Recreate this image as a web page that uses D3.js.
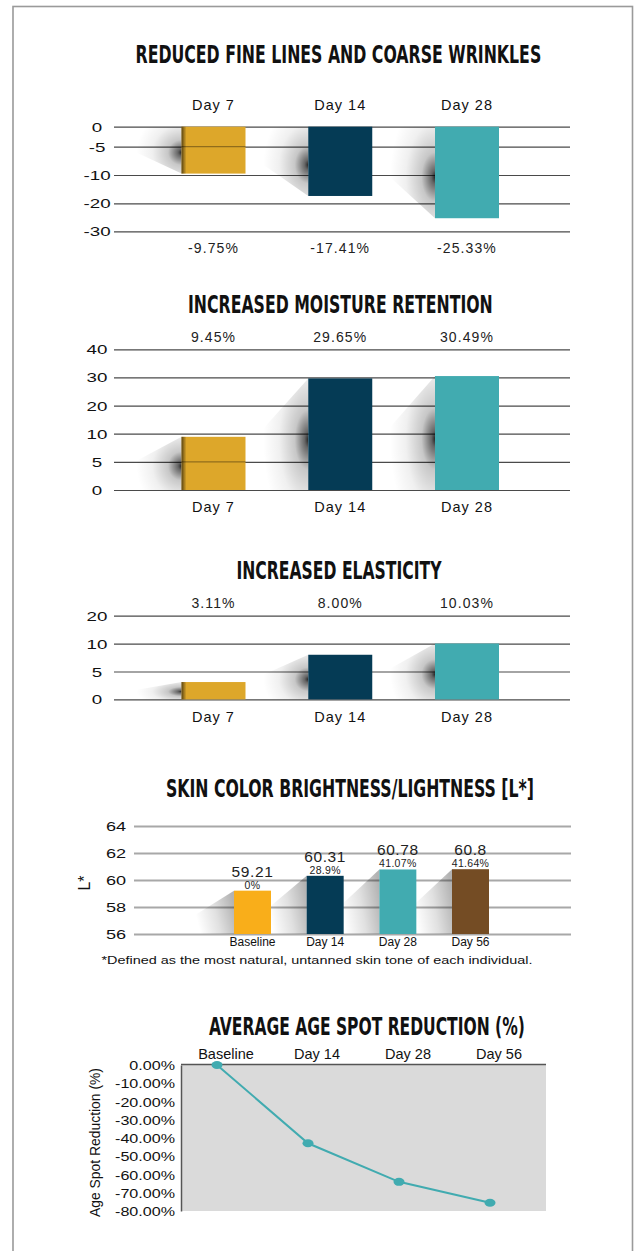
<!DOCTYPE html>
<html>
<head>
<meta charset="utf-8">
<script src="https://cdn.jsdelivr.net/npm/d3@7"></script>
<style>
    body { margin: 0; background: #fff; }
    svg text { font-family: 'Liberation Sans', Arial, sans-serif; fill: #222; }
    .chart__title { font-family: 'Liberation Sans Narrow', 'DejaVu Sans Condensed', sans-serif; font-weight: bold; fill: #111; }
</style>
</head>
<body>
<svg id="chart" width="637" height="1251"></svg>
<script>
//Datos de los gráficos de barras
let dayLabels = ['Day 7', 'Day 14', 'Day 28'];
let wrinkleValues = [-9.75, -17.41, -25.33];
let wrinkleTicks = [0, -5, -10, -20, -30];
let moistureValues = [9.45, 29.65, 30.49];
let moistureTicks = [40, 30, 20, 10, 5, 0];
let elasticityValues = [3.11, 8.00, 10.03];
let elasticityTicks = [20, 10, 5, 0];

let brightnessLabels = ['Baseline', 'Day 14', 'Day 28', 'Day 56'];
let brightnessValues = [59.21, 60.31, 60.78, 60.8];
let brightnessChanges = ['0%', '28.9%', '41.07%', '41.64%'];
let brightnessTicks = [56, 58, 60, 62, 64];

let spotLabels = ['Baseline', 'Day 14', 'Day 28', 'Day 56'];
let spotValues = [0, -42.9, -64, -75.5];
let spotTicks = [0, -10, -20, -30, -40, -50, -60, -70, -80];

let chartTitles = ['REDUCED FINE LINES AND COARSE WRINKLES', 'INCREASED MOISTURE RETENTION', 'INCREASED ELASTICITY',
    'SKIN COLOR BRIGHTNESS/LIGHTNESS [L*]', 'AVERAGE AGE SPOT REDUCTION (%)'];
let footnote = '*Defined as the most natural, untanned skin tone of each individual.';

//Variables para colores
let gold = '#dda72a', navy = '#053b55', teal = '#41abb0', amber = '#f9ae1a', brown = '#744c24';
let dayColors = [gold, navy, teal];
let brightnessColors = [amber, navy, teal, brown];

let svg = d3.select('#chart');
//Formato con guion normal en lugar del signo menos
let pct = function(d) { return d3.format('.2f')(d).replace('\u2212', '-'); };

//Marco exterior
svg.append('rect')
    .attr('x', 13).attr('y', 6.5)
    .attr('width', 619.5).attr('height', 1270)
    .style('fill', 'none').style('stroke', '#9a9a9a').style('stroke-width', 1.6);

//Degradados para sombras
let defs = svg.append('defs');
let darkShadow = defs.append('radialGradient').attr('id', 'shadow-dark')
    .attr('cx', 1).attr('cy', 0.55).attr('fx', 1).attr('fy', 0.55).attr('r', 0.9);
[[0, 0.85], [0.08, 0.6], [0.3, 0.22], [0.65, 0.06], [1, 0]].forEach(function(s) {
    darkShadow.append('stop').attr('offset', s[0]).attr('stop-color', '#000').attr('stop-opacity', s[1]);
});
let lightShadow = defs.append('linearGradient').attr('id', 'shadow-light')
    .attr('x1', 1).attr('x2', 0).attr('y1', 0.3).attr('y2', 0.6);
[[0, 0.3], [0.5, 0.12], [1, 0]].forEach(function(s) {
    lightShadow.append('stop').attr('offset', s[0]).attr('stop-color', '#000').attr('stop-opacity', s[1]);
});
let sideShadow = defs.append('linearGradient').attr('id', 'shadow-side');
[[0, 0.6], [1, 0]].forEach(function(s) {
    sideShadow.append('stop').attr('offset', s[0]).attr('stop-color', '#000').attr('stop-opacity', s[1]);
});

//Título estrechado hasta el ancho indicado
function addTitle(chart, text, x, y, len) {
    let t = chart.append('text')
        .attr('class', 'chart__title')
        .style('font-size', '24px')
        .text(text);
    let sx = len / t.node().getComputedTextLength();
    t.attr('transform', 'translate(' + x + ',' + y + ') scale(' + sx + ',1)');
}

/* Gráficos de barras Day 7 / 14 / 28 */
function getDayChart(cfg) {
    let chart = svg.append('g');
    addTitle(chart, cfg.title, cfg.titleX, cfg.titleY, cfg.titleLen);

    //Eje Y (escala por tramos)
    let yRange = [cfg.gridTop];
    cfg.gaps.forEach(function(g) { yRange.push(yRange[yRange.length - 1] + g); });
    let y = d3.scaleLinear().domain(cfg.ticks).range(yRange);
    let x = d3.scalePoint().domain(dayLabels).range([213.5, 467]);
    let barW = 64, gridLeft = 114, gridRight = 570;

    let yAxis = function(g) {
        g.call(d3.axisLeft(y).tickValues(cfg.ticks).tickSize(-(gridRight - gridLeft)).tickFormat(function(d) { return String(d); }));
        g.call(function(g) { g.select('.domain').remove(); });
        g.call(function(g) { g.selectAll('.tick line').style('stroke', '#4a4a4a').style('stroke-width', 1.2); });
        g.call(function(g) {
            g.selectAll('.tick text')
                .attr('x', 0).attr('dy', '0.36em')
                .attr('text-anchor', 'middle')
                .attr('transform', 'translate(' + (97 - gridLeft) + ',0) scale(1.5,1)')
                .style('font-size', '12.5px').style('fill', '#111');
        });
    };
    chart.append('g')
        .attr('transform', 'translate(' + gridLeft + ',0)')
        .call(yAxis);

    let y0 = y(0);

    //Sombras
    chart.selectAll('.shadow')
        .data(cfg.values)
        .enter()
        .append('polygon')
        .attr('points', function(d, i) {
            let L = x(dayLabels[i]) - barW / 2, yv = y(d), dx = 50;
            if (d < 0) {
                return [[L, y0], [L - dx, y0], [L - dx, y0 + (yv - y0) * 0.5], [L, yv]].join(' ');
            }
            return [[L, yv], [L - dx, yv + (y0 - yv) * 0.5], [L - dx, y0], [L, y0]].join(' ');
        })
        .style('fill', 'url(#shadow-dark)');

    //Barras
    chart.selectAll('.bar')
        .data(cfg.values)
        .enter()
        .append('rect')
        .attr('x', function(d, i) { return x(dayLabels[i]) - barW / 2; })
        .attr('y', function(d) { return Math.min(y0, y(d)); })
        .attr('width', barW)
        .attr('height', function(d) { return Math.abs(y(d) - y0); })
        .style('fill', function(d, i) { return dayColors[i]; });

    //Borde oscuro y líneas sobre la primera barra
    let first = cfg.values[0], L0 = x(dayLabels[0]) - barW / 2;
    chart.append('rect')
        .attr('x', L0).attr('y', Math.min(y0, y(first)))
        .attr('width', 5).attr('height', Math.abs(y(first) - y0))
        .style('fill', 'url(#shadow-side)');
    chart.selectAll('.over-line')
        .data(cfg.ticks.filter(function(t) { return t != 0 && Math.abs(t) < Math.abs(first); }))
        .enter()
        .append('line')
        .attr('x1', L0).attr('x2', L0 + barW)
        .attr('y1', function(d) { return y(d); }).attr('y2', function(d) { return y(d); })
        .style('stroke', '#000').style('stroke-opacity', 0.35).style('stroke-width', 1.2);

    //Etiquetas de categoría y de porcentaje
    chart.selectAll('.cat')
        .data(dayLabels)
        .enter()
        .append('text')
        .attr('x', function(d) { return x(d); })
        .attr('y', cfg.catY).attr('dy', '0.36em')
        .attr('text-anchor', 'middle')
        .style('font-size', '14.5px').style('letter-spacing', '1px').style('fill', '#111')
        .text(function(d) { return d; });

    chart.selectAll('.val')
        .data(cfg.values)
        .enter()
        .append('text')
        .attr('x', function(d, i) { return x(dayLabels[i]); })
        .attr('y', cfg.valY).attr('dy', '0.36em')
        .attr('text-anchor', 'middle')
        .style('font-size', '14px').style('letter-spacing', '1.1px').style('fill', '#222')
        .text(function(d) { return pct(d) + '%'; });
}

/* Gráfico de luminosidad L* */
function getBrightnessChart() {
    let chart = svg.append('g');
    addTitle(chart, chartTitles[3], 166, 797, 368);

    let gridLeft = 134, gridRight = 571, barW = 37;
    let y = d3.scaleLinear().domain([56, 64]).range([934, 826]);
    let x = d3.scalePoint().domain(brightnessLabels).range([252.5, 470.5]);

    let yAxis = function(g) {
        g.call(d3.axisLeft(y).tickValues(brightnessTicks).tickSize(-(gridRight - gridLeft)));
        g.call(function(g) { g.select('.domain').remove(); });
        g.call(function(g) { g.selectAll('.tick line').style('stroke', '#a8a8a8').style('stroke-width', 2); });
        g.call(function(g) {
            g.selectAll('.tick text')
                .attr('x', 0).attr('dy', '0.36em')
                .attr('text-anchor', 'middle')
                .attr('transform', 'translate(' + (116 - gridLeft) + ',0) scale(1.45,1)')
                .style('font-size', '12.5px').style('fill', '#111');
        });
    };
    chart.append('g')
        .attr('transform', 'translate(' + gridLeft + ',0)')
        .call(yAxis);

    let y0 = y(56);

    //Sombras suaves
    chart.selectAll('.shadow')
        .data(brightnessValues)
        .enter()
        .append('polygon')
        .attr('points', function(d, i) {
            let L = x(brightnessLabels[i]) - barW / 2, yv = y(d), dx = 38;
            return [[L, yv], [L - dx, yv + (y0 - yv) * 0.55], [L - dx, y0], [L, y0]].join(' ');
        })
        .style('fill', 'url(#shadow-light)');

    chart.selectAll('.bar')
        .data(brightnessValues)
        .enter()
        .append('rect')
        .attr('x', function(d, i) { return x(brightnessLabels[i]) - barW / 2; })
        .attr('y', function(d) { return y(d); })
        .attr('width', barW)
        .attr('height', function(d) { return y0 - y(d); })
        .style('fill', function(d, i) { return brightnessColors[i]; });

    //Valores encima de las barras
    chart.selectAll('.val')
        .data(brightnessValues)
        .enter()
        .append('text')
        .attr('x', function(d, i) { return x(brightnessLabels[i]); })
        .attr('y', function(d) { return y(d) - 14; })
        .attr('text-anchor', 'middle')
        .style('font-size', '15.5px').style('letter-spacing', '0.6px').style('fill', '#222')
        .text(function(d) { return d; });

    chart.selectAll('.change')
        .data(brightnessChanges)
        .enter()
        .append('text')
        .attr('x', function(d, i) { return x(brightnessLabels[i]); })
        .attr('y', function(d, i) { return y(brightnessValues[i]) - 2; })
        .attr('text-anchor', 'middle')
        .style('font-size', '10.5px').style('letter-spacing', '0.3px').style('fill', '#222')
        .text(function(d) { return d; });

    chart.selectAll('.cat')
        .data(brightnessLabels)
        .enter()
        .append('text')
        .attr('x', function(d) { return x(d); })
        .attr('y', 942).attr('dy', '0.36em')
        .attr('text-anchor', 'middle')
        .style('font-size', '12px').style('fill', '#111')
        .text(function(d) { return d; });

    //Título eje Y
    chart.append('text')
        .attr('transform', 'translate(90,883) rotate(-90)')
        .attr('text-anchor', 'middle')
        .style('font-size', '16px').style('fill', '#111')
        .text('L*');

    chart.append('text')
        .attr('x', 101.5).attr('y', 960).attr('dy', '0.36em')
        .attr('textLength', 431).attr('lengthAdjust', 'spacingAndGlyphs')
        .style('font-size', '11.5px').style('fill', '#111')
        .text(footnote);
}

/* Gráfico de reducción de manchas */
function getSpotChart() {
    let chart = svg.append('g');
    addTitle(chart, chartTitles[4], 209, 1035, 316);

    let plotLeft = 181, plotRight = 546;
    let y = d3.scaleLinear().domain([-80, 0]).range([1211, 1065]);
    let x = d3.scalePoint().domain(spotLabels).range([217, 490]);

    //Fondo del área de datos
    chart.append('rect')
        .attr('x', plotLeft).attr('y', y(0))
        .attr('width', plotRight - plotLeft).attr('height', y(-80) - y(0))
        .style('fill', '#dadada');

    let yAxis = function(g) {
        g.call(d3.axisLeft(y).tickValues(spotTicks).tickSize(0).tickFormat(function(d) { return pct(d) + '%'; }));
        g.call(function(g) { g.select('.domain').style('stroke', '#555').style('stroke-width', 1.5); });
        g.call(function(g) {
            g.selectAll('.tick text')
                .attr('x', 0).attr('dy', '0.36em')
                .attr('transform', 'translate(-6,0) scale(1.24,1)')
                .style('font-size', '13px').style('fill', '#111');
        });
    };
    chart.append('g')
        .attr('transform', 'translate(' + plotLeft + ',0)')
        .call(yAxis);

    chart.append('line')
        .attr('x1', plotLeft).attr('x2', plotRight)
        .attr('y1', y(0) - 0.5).attr('y2', y(0) - 0.5)
        .style('stroke', '#555').style('stroke-width', 1.5);

    //Etiquetas superiores
    chart.selectAll('.cat')
        .data(spotLabels)
        .enter()
        .append('text')
        .attr('x', function(d) { return x(d) + 9; })
        .attr('y', 1054).attr('dy', '0.36em')
        .attr('text-anchor', 'middle')
        .style('font-size', '14.5px').style('fill', '#111')
        .text(function(d) { return d; });

    //Línea y puntos
    let line = d3.line()
        .x(function(d, i) { return x(spotLabels[i]); })
        .y(function(d) { return y(d); });

    chart.append('path')
        .datum(spotValues)
        .attr('d', line)
        .style('fill', 'none').style('stroke', teal).style('stroke-width', 2);

    chart.selectAll('.dot')
        .data(spotValues)
        .enter()
        .append('ellipse')
        .attr('cx', function(d, i) { return x(spotLabels[i]); })
        .attr('cy', function(d) { return y(d); })
        .attr('rx', 5.5).attr('ry', 4)
        .style('fill', teal);

    chart.append('text')
        .attr('transform', 'translate(95,1142.5) rotate(-90)')
        .attr('dy', '0.36em')
        .attr('text-anchor', 'middle')
        .attr('textLength', 149).attr('lengthAdjust', 'spacingAndGlyphs')
        .style('font-size', '15px').style('fill', '#111')
        .text('Age Spot Reduction (%)');
}

getDayChart({
    title: chartTitles[0], titleX: 135.5, titleY: 63, titleLen: 406,
    values: wrinkleValues, ticks: wrinkleTicks,
    gridTop: 126.7, gaps: [20, 28.3, 28.3, 28],
    catY: 105, valY: 248
});
getDayChart({
    title: chartTitles[1], titleX: 188, titleY: 313, titleLen: 305,
    values: moistureValues, ticks: moistureTicks,
    gridTop: 349.3, gaps: [28.14, 28.14, 28.14, 28.14, 28.14],
    catY: 507, valY: 336.7
});
getDayChart({
    title: chartTitles[2], titleX: 236.5, titleY: 579, titleLen: 205,
    values: elasticityValues, ticks: elasticityTicks,
    gridTop: 615.7, gaps: [27.9, 27.9, 27.9],
    catY: 717, valY: 603
});
getBrightnessChart();
getSpotChart();
</script>
</body>
</html>
